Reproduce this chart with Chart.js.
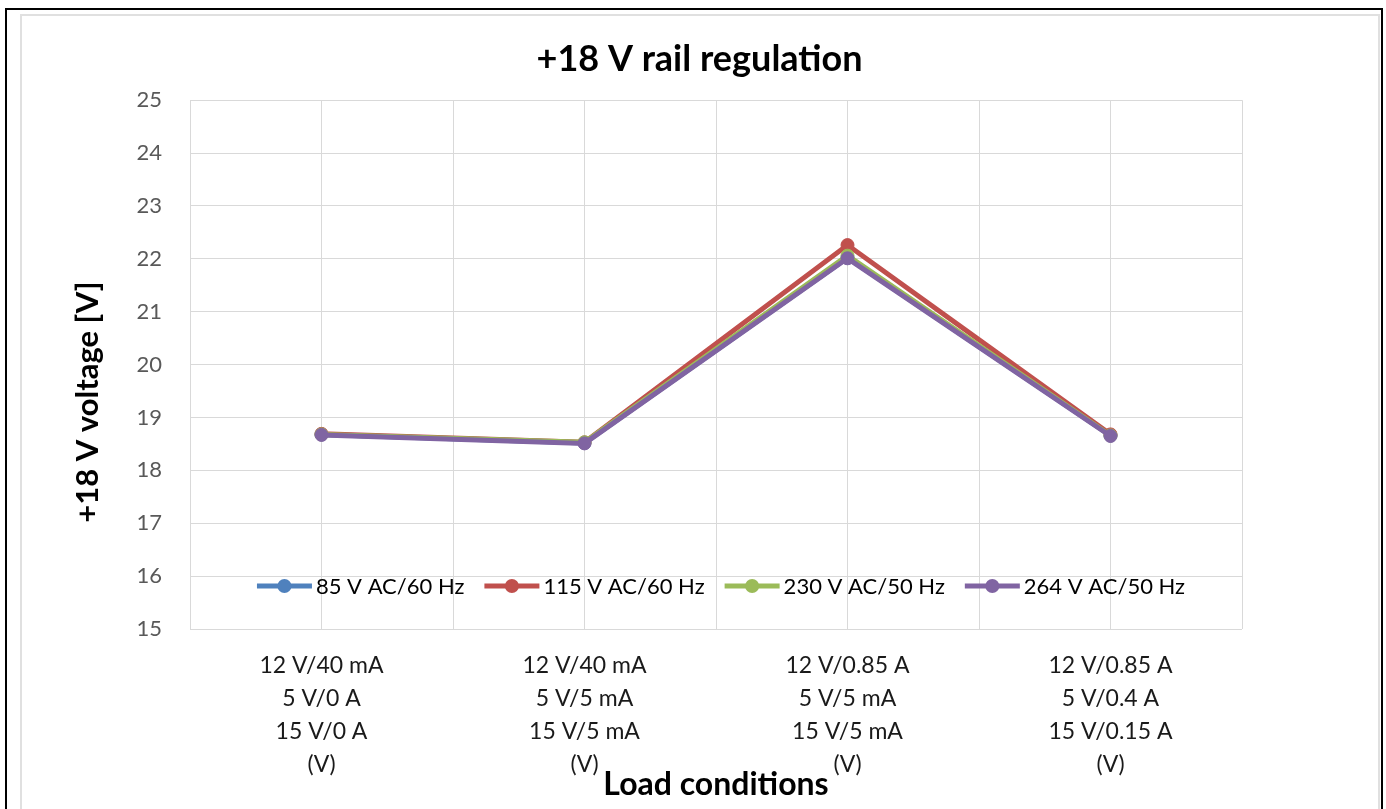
<!DOCTYPE html>
<html>
<head>
<meta charset="utf-8">
<script src="https://cdn.jsdelivr.net/npm/chart.js@4/dist/chart.umd.min.js"></script>
<style>
  html, body { margin: 0; padding: 0; background: #fff; overflow: hidden; }
  #outer { position: absolute; left: 5px; top: 8px; width: 1378px; height: 900px; border: 2px solid #000; box-sizing: border-box; }
  #inner { position: absolute; left: 20px; top: 14px; width: 1360px; height: 900px; border: 2px solid #e0e0e0; box-sizing: border-box; }
  #c { position: absolute; left: 0; top: 0; }
</style>
</head>
<body>
<div id="outer"></div>
<div id="inner"></div>
<canvas id="c" width="1386" height="809"></canvas>
<script>
// ---- data ----
const categories = [
  ["12 V/40 mA", "5 V/0 A", "15 V/0 A", "(V)"],
  ["12 V/40 mA", "5 V/5 mA", "15 V/5 mA", "(V)"],
  ["12 V/0.85 A", "5 V/5 mA", "15 V/5 mA", "(V)"],
  ["12 V/0.85 A", "5 V/0.4 A", "15 V/0.15 A", "(V)"]
];
const seriesNames = ["85 V AC/60 Hz", "115 V AC/60 Hz", "230 V AC/50 Hz", "264 V AC/50 Hz"];
const v85  = [18.68, 18.52, 22.02, 18.66];
const v115 = [18.69, 18.53, 22.26, 18.68];
const v230 = [18.68, 18.53, 22.06, 18.66];
const v264 = [18.67, 18.51, 22.01, 18.65];
const yMin = 15, yMax = 25, yStep = 1;
const chartTitle = "+18 V rail regulation";
const yTitle = "+18 V voltage [V]";
const xTitle = "Load conditions";

// ---- styles ----
const colors = ["#4F81BD", "#C0504D", "#9BBB59", "#8064A2"];
const seriesValues = [v85, v115, v230, v264];
const FONT = "Lato";

const datasets = seriesValues.map((vals, s) => ({
  label: seriesNames[s],
  data: vals.map((v, i) => ({ x: i, y: v })),
  borderColor: colors[s],
  backgroundColor: colors[s],
  pointBackgroundColor: colors[s],
  pointBorderColor: colors[s],
  borderWidth: 5,
  pointRadius: 6.5,
  pointBorderWidth: 1,
  tension: 0,
  order: seriesValues.length - s,
  yAxisID: "y"
}));

const customLegend = {
  id: "customLegend",
  afterDraw(chart) {
    const ctx = chart.ctx;
    const ca = chart.chartArea;
    ctx.save();
    ctx.font = "22px " + FONT;
    const lineLen = 55, gap1 = 4, gap2 = 20;
    const widths = chart.data.datasets.map(d => ctx.measureText(d.label).width);
    let total = widths.reduce((a, w) => a + lineLen + gap1 + w, 0) + gap2 * (widths.length - 1);
    let x = (ca.left + ca.right) / 2 - total / 2 + 5;
    const y = ca.bottom - 43;
    chart.data.datasets.forEach((d, i) => {
      ctx.strokeStyle = d.borderColor;
      ctx.lineWidth = 5;
      ctx.beginPath();
      ctx.moveTo(x, y);
      ctx.lineTo(x + lineLen, y);
      ctx.stroke();
      ctx.fillStyle = d.borderColor;
      ctx.beginPath();
      ctx.arc(x + lineLen / 2, y, 7, 0, Math.PI * 2);
      ctx.fill();
      ctx.fillStyle = "#000";
      ctx.textBaseline = "middle";
      ctx.textAlign = "left";
      ctx.fillText(d.label, x + lineLen + gap1, y + 1);
      x += lineLen + gap1 + widths[i] + gap2;
    });
    ctx.restore();
  }
};

const yAxisTitle = {
  id: "yAxisTitle",
  afterDraw(chart) {
    const ctx = chart.ctx;
    const ca = chart.chartArea;
    ctx.save();
    ctx.translate(88, ca.top + 302);
    ctx.rotate(-Math.PI / 2);
    ctx.font = "bold 31px " + FONT;
    ctx.fillStyle = "#000";
    ctx.textAlign = "center";
    ctx.textBaseline = "middle";
    ctx.fillText(yTitle, 0, 0);
    ctx.restore();
  }
};

new Chart(document.getElementById("c"), {
  type: "line",
  data: { datasets },
  plugins: [customLegend, yAxisTitle],
  options: {
    responsive: false,
    devicePixelRatio: 1,
    animation: false,
    layout: { padding: { left: 20, right: 7, top: 0, bottom: 0 } },
    plugins: {
      legend: { display: false },
      tooltip: { enabled: false },
      title: {
        display: true,
        text: chartTitle,
        color: "#000",
        font: { family: FONT, size: 36, weight: "bold", lineHeight: 1.2 },
        padding: { top: 38, bottom: 19 }
      }
    },
    scales: {
      x: {
        type: "linear",
        min: -0.5,
        max: categories.length - 0.5,
        afterBuildTicks: (s) => {
          const t = [];
          for (let v = -0.5; v <= categories.length - 0.5; v += 0.5) t.push({ value: v });
          s.ticks = t;
        },
        ticks: {
          autoSkip: false,
          maxRotation: 0,
          minRotation: 0,
          padding: 20,
          color: "#1a1a1a",
          font: { family: FONT, size: 23, lineHeight: 1.43 },
          callback: (v) => Number.isInteger(v) ? categories[v] : ""
        },
        grid: { color: "#d9d9d9", lineWidth: 1, drawTicks: false },
        border: { display: false },
        title: {
          display: true,
          text: xTitle,
          color: "#000",
          font: { family: FONT, size: 32, weight: "bold", lineHeight: 1.2 },
          padding: { top: 0, bottom: 5 }
        },
        afterFit: (s) => { s.height = 180; }
      },
      y: {
        type: "linear",
        position: "left",
        min: yMin,
        max: yMax,
        ticks: {
          stepSize: yStep,
          padding: 28,
          color: "#595959",
          font: { family: FONT, size: 22 }
        },
        grid: { color: "#d9d9d9", lineWidth: 1, drawTicks: false },
        border: { display: false },
        afterFit: (s) => { s.width = 170; }
      },
      yRight: {
        type: "linear",
        position: "right",
        display: true,
        grid: { display: false },
        ticks: { display: false },
        border: { display: false },
        afterFit: (s) => { s.width = 137; }
      }
    }
  }
});
</script>
</body>
</html>
